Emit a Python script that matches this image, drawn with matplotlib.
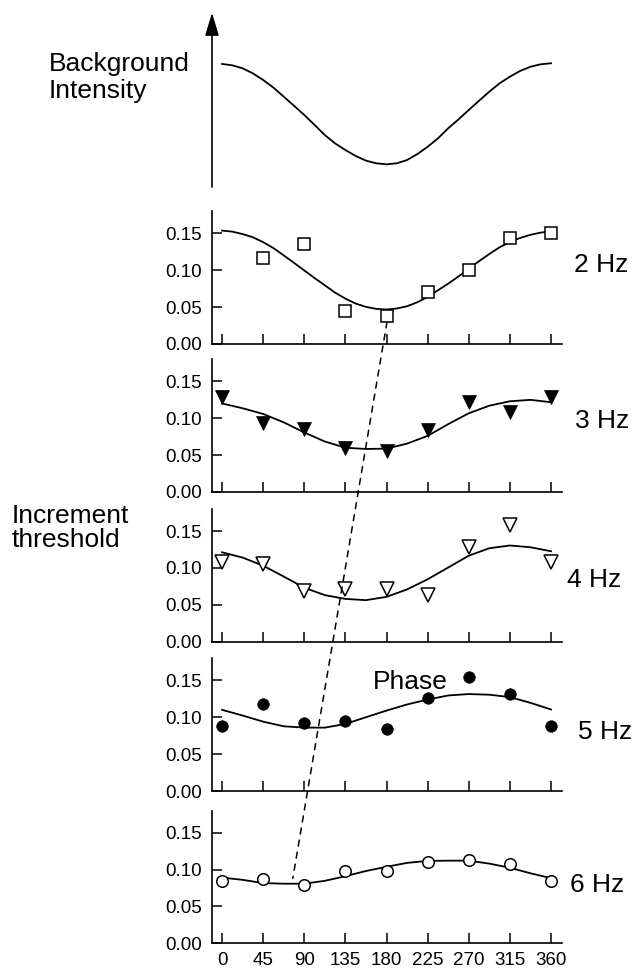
import matplotlib.pyplot as plt
from matplotlib.patches import ConnectionPatch

# Fases (grados) de las mediciones y de las curvas ajustadas
phase = [0, 45, 90, 135, 180, 225, 270, 315, 360]
phase_2hz = [45, 90, 135, 180, 225, 270, 315, 360]
fit_phase = [0, 22.5, 45, 67.5, 90, 112.5, 135, 157.5, 180,
             202.5, 225, 247.5, 270, 292.5, 315, 337.5, 360]
fine_phase = [0, 11.25, 22.5, 33.75, 45, 56.25, 67.5, 78.75, 90, 101.25,
              112.5, 123.75, 135, 146.25, 157.5, 168.75, 180, 191.25,
              202.5, 213.75, 225, 236.25, 247.5, 258.75, 270, 281.25,
              292.5, 303.75, 315, 326.25, 337.5, 348.75, 360]

# Intensidad de fondo (unidades relativas)
background = [0.706, 0.698, 0.681, 0.652, 0.614, 0.570, 0.518, 0.466, 0.413,
              0.356, 0.298, 0.250, 0.212, 0.178, 0.151, 0.136, 0.130, 0.136,
              0.155, 0.189, 0.231, 0.279, 0.337, 0.388, 0.442, 0.495, 0.547,
              0.595, 0.633, 0.666, 0.690, 0.704, 0.710]

# Umbrales medidos
thr_2hz = [0.117, 0.136, 0.045, 0.038, 0.0705, 0.0997, 0.143, 0.151]
thr_3hz = [0.129, 0.093, 0.085, 0.060, 0.0556, 0.084, 0.122, 0.108, 0.129]
thr_4hz = [0.108, 0.105, 0.0686, 0.071, 0.072, 0.063, 0.129, 0.158, 0.1075]
thr_5hz = [0.0877, 0.118, 0.0923, 0.0945, 0.084, 0.1264, 0.1545, 0.131, 0.0877]
thr_6hz = [0.0838, 0.0874, 0.0794, 0.098, 0.098, 0.110, 0.1125, 0.108, 0.0838]

# Curvas ajustadas
fit_2hz = [0.1537, 0.1523, 0.149, 0.1447, 0.138, 0.130, 0.120, 0.110, 0.0997,
           0.0894, 0.0795, 0.0696, 0.0615, 0.0548, 0.0503, 0.0476, 0.0467,
           0.0481, 0.0512, 0.0566, 0.0638, 0.0728, 0.0818, 0.0916, 0.102,
           0.1123, 0.122, 0.1312, 0.138, 0.1438, 0.148, 0.151, 0.1527]
fit_3hz = [0.120, 0.1135, 0.1058, 0.0944, 0.0807, 0.0684, 0.060, 0.0583, 0.0588,
           0.0656, 0.0761, 0.092, 0.1067, 0.117, 0.123, 0.1249, 0.1217]
fit_4hz = [0.1212, 0.114, 0.103, 0.0883, 0.0732, 0.0631, 0.058, 0.0563, 0.0608,
           0.0709, 0.0846, 0.1006, 0.1166, 0.1267, 0.1304, 0.128, 0.1226]
fit_5hz = [0.110, 0.1023, 0.094, 0.0877, 0.0859, 0.0859, 0.0909, 0.100, 0.109,
           0.1173, 0.124, 0.1295, 0.1314, 0.1305, 0.1273, 0.1195, 0.1105]
fit_6hz = [0.0891, 0.086, 0.0816, 0.0808, 0.0808, 0.0847, 0.0909, 0.098, 0.1037,
           0.109, 0.1117, 0.112, 0.112, 0.108, 0.1024, 0.0949, 0.0883]

# Línea discontinua: fase del mínimo (2 Hz -> 6 Hz)
dash_phase = [180.5, 77.4]
dash_thr = [0.03, 0.088]

freq_labels = ['2 Hz', '3 Hz', '4 Hz', '5 Hz', '6 Hz']
y_ticks = [0, 0.05, 0.10, 0.15]
y_tick_labels = ['0.00', '0.05', '0.10', '0.15']
x_tick_labels = ['0', '45', '90', '135', '180', '225', '270', '315', '360']

plt.rcParams['font.family'] = ['Liberation Sans', 'DejaVu Sans']

fig = plt.figure(figsize=(6.37, 9.68), dpi=100)
W, H = 637, 968
left = 212 / W
width = 350 / W

# Panel superior: intensidad de fondo
ax_top = fig.add_axes([left, 1 - 187 / H, width, (187 - 12.7) / H])
ax_top.set_xlim(-11, 372)
ax_top.set_ylim(0, 1)
ax_top.plot(fine_phase, background, color='black', lw=1.3)
ax_top.axis('off')
ax_top.annotate('', xy=(-11, 1), xytext=(-11, 0), annotation_clip=False,
                arrowprops=dict(arrowstyle='-|>,head_length=1.0,head_width=0.3',
                                mutation_scale=14, color='black', lw=1.2,
                                shrinkA=0, shrinkB=0))
fig.text(49 / W, 1 - 71 / H, 'Background', fontsize=19, va='baseline')
fig.text(49 / W, 1 - 97.7 / H, 'Intensity', fontsize=19, va='baseline')

# Paneles de umbral
bottoms_px = [344, 492, 641.7, 791, 943.3]
phases = [phase_2hz, phase, phase, phase, phase]
thresholds = [thr_2hz, thr_3hz, thr_4hz, thr_5hz, thr_6hz]
fit_x = [fine_phase, fit_phase, fit_phase, fit_phase, fit_phase]
fits = [fit_2hz, fit_3hz, fit_4hz, fit_5hz, fit_6hz]
markers = [dict(marker='s', ms=8.5, mfc='white', mew=1.1),
           dict(marker='v', ms=10, mfc='black', mew=0.5),
           dict(marker='v', ms=10, mfc='white', mew=1.1),
           dict(marker='o', ms=8.3, mfc='black', mew=0.5),
           dict(marker='o', ms=8.3, mfc='white', mew=1.1)]
label_pos = [(385, 0.097), (386, 0.0865), (377, 0.0747), (390, 0.0708), (381, 0.0696)]

axes = []
for i in range(5):
    ax = fig.add_axes([left, 1 - bottoms_px[i] / H, width, 132.8 / H])
    ax.plot(fit_x[i], fits[i], color='black', lw=1.3, zorder=2)
    ax.plot(phases[i], thresholds[i], ls='none', mec='black', zorder=3, **markers[i])
    ax.set_xlim(-11, 372)
    ax.set_ylim(0, 0.18)
    ax.set_xticks(phase)
    ax.set_yticks(y_ticks)
    ax.set_yticklabels(y_tick_labels)
    if i == 4:
        ax.set_xticklabels(x_tick_labels)
    else:
        ax.set_xticklabels([])
    ax.tick_params(direction='in', length=7.5, width=1.1, labelsize=13.5, pad=6)
    ax.tick_params(axis='y', pad=7)
    for s in ['top', 'right']:
        ax.spines[s].set_visible(False)
    for s in ['left', 'bottom']:
        ax.spines[s].set_linewidth(1.2)
    ax.text(label_pos[i][0], label_pos[i][1], freq_labels[i], fontsize=19,
            va='baseline', ha='left', clip_on=False)
    axes.append(ax)

axes[3].text(165, 0.1386, 'Phase', fontsize=19, va='baseline', ha='left', zorder=1)

fig.text(12 / W, 1 - 523.3 / H, 'Increment', fontsize=19, va='baseline')
fig.text(12 / W, 1 - 547.3 / H, 'threshold', fontsize=19, va='baseline')

con = ConnectionPatch(xyA=(dash_phase[0], dash_thr[0]), coordsA=axes[0].transData,
                      xyB=(dash_phase[1], dash_thr[1]), coordsB=axes[4].transData,
                      color='black', lw=1.1, linestyle=(0, (4, 4)))
fig.add_artist(con)

plt.savefig('out.png', dpi=100)
